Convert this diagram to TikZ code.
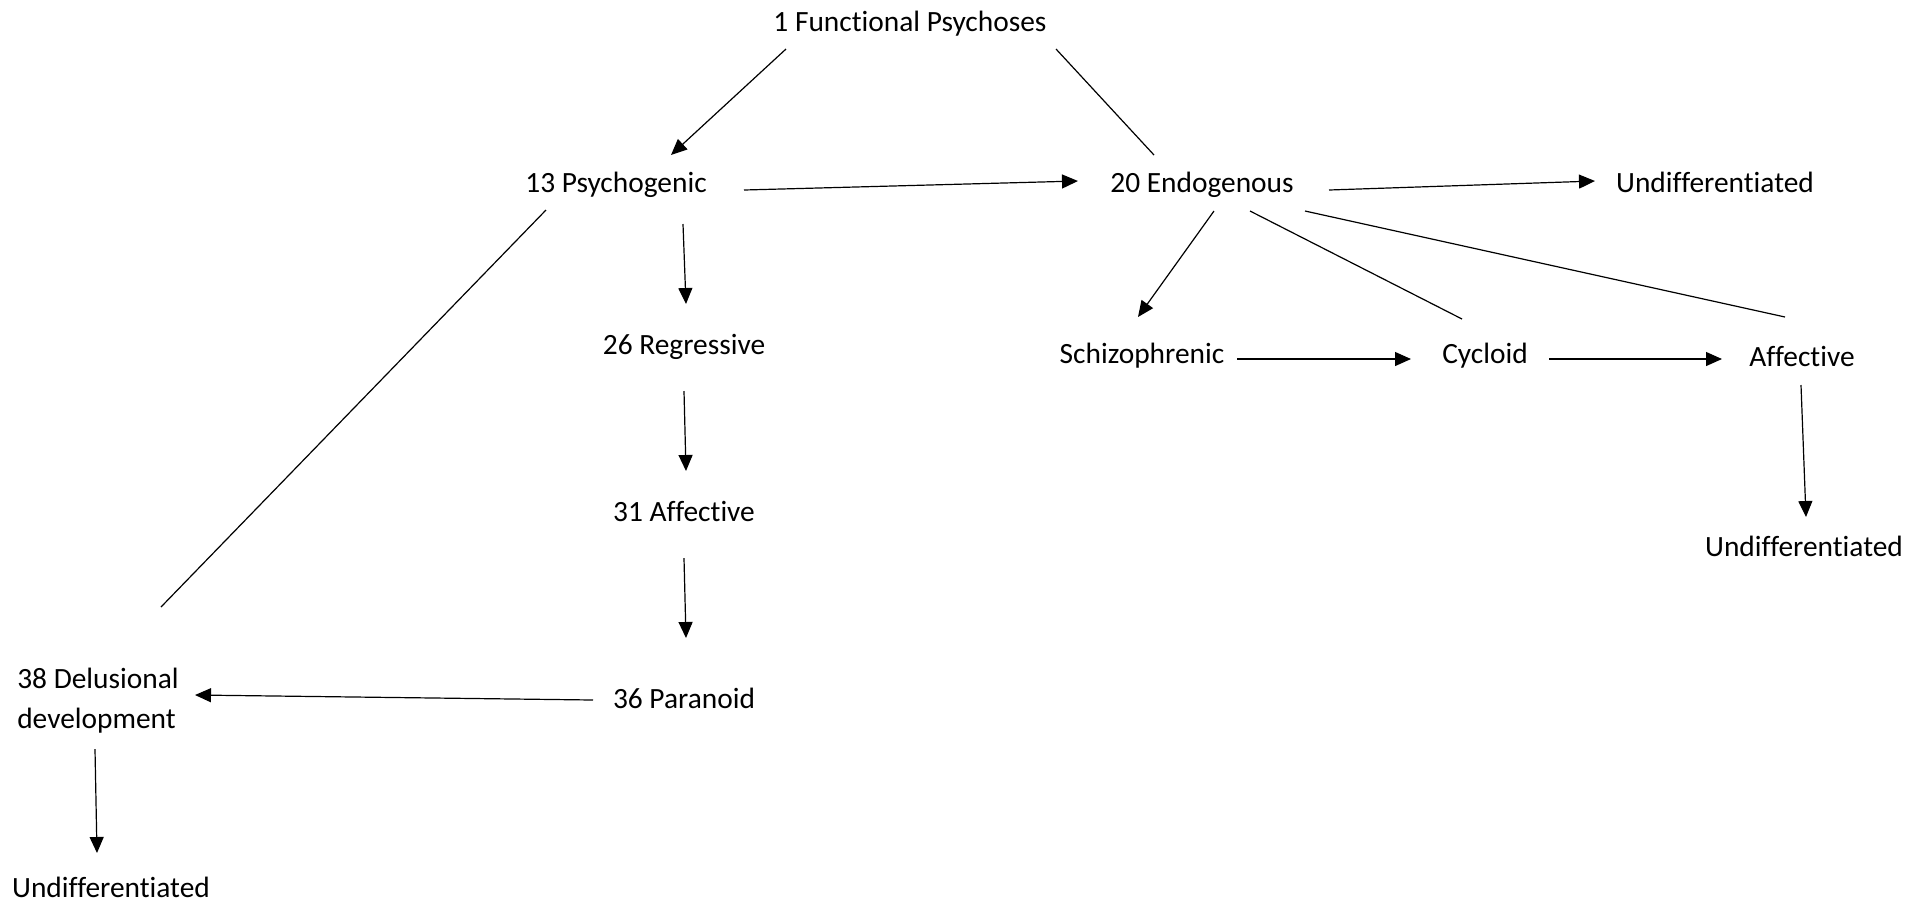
\documentclass[tikz,border=0pt]{standalone}
\usepackage{fontspec}
\setmainfont{Carlito}[Ligatures=NoCommon]
\usetikzlibrary{arrows.meta,calc}

\begin{document}
\begin{tikzpicture}[x=0.5pt,y=-0.5pt,
  etiq/.style={font=\fontsize{14.7}{20}\selectfont,inner sep=0pt,text height=0.85em,text depth=0.1em},
  etiqdos/.style={font=\fontsize{14.7}{20}\selectfont,inner sep=0pt,align=left},
  flecha/.style={-{Triangle[length=8pt,width=7pt]},line width=0.6pt},
  linea/.style={line width=0.6pt}
  ]

  \useasboundingbox (0,0) rectangle (1929,902);

  \node[etiq] (fp) at (910,24) {1 Functional Psychoses};
  \node[etiq] (psy) at (616,185) {13 Psychogenic};
  \node[etiq] (endo) at (1202,185) {20 Endogenous};
  \node[etiq] (indA) at (1715,185) {Undifferentiated};
  \node[etiq] (reg) at (684,347) {26 Regressive};
  \node[etiq] (afe) at (684,514) {31 Affective};
  \node[etiq] (par) at (684,701) {36 Paranoid};
  \node[etiqdos] (del) at (98,701) {38 Delusional\\development};
  \node[etiq] (indB) at (111,890) {Undifferentiated};
  \node[etiq] (esq) at (1142,356) {Schizophrenic};
  \node[etiq] (cic) at (1485,356) {Cycloid};
  \node[etiq] (afd) at (1802,359) {Affective};
  \node[etiq] (indC) at (1804,549) {Undifferentiated};

  \draw[flecha] ($(fp)+(-124,25)$) -- ($(psy)+(55,-30)$);
  \draw[linea] ($(fp)+(146,25)$) -- ($(endo)+(-48,-30)$);
  \draw[flecha] ($(psy)+(128,5)$) -- ($(endo)+(-124,-4)$);
  \draw[flecha] ($(endo)+(127,5)$) -- ($(indA)+(-120,-4)$);

  % rama psicogena
  \draw[flecha] ($(psy)+(67,39)$) -- ($(reg)+(2,-43)$);
  \draw[flecha] ($(reg)+(0,44)$) -- ($(afe)+(2,-43)$);
  \draw[flecha] ($(afe)+(0,44)$) -- ($(par)+(2,-63)$);
  \draw[flecha] ($(par)+(-91,-1)$) -- ($(del)+(97,-6)$);
  \draw[linea] ($(psy)+(-70,25)$) -- ($(del)+(63,-94)$);
  \draw[flecha] ($(del)+(-3,48)$) -- ($(indB)+(-14,-37)$);

  % rama endogena
  \draw[flecha] ($(endo)+(12,26)$) -- ($(esq)+(-4,-39)$);
  \draw[linea] ($(endo)+(48,26)$) -- ($(cic)+(-23,-37)$);
  \draw[linea] ($(endo)+(103,26)$) -- ($(afd)+(-17,-42)$);
  \draw[flecha] ($(esq)+(95,3)$) -- ($(cic)+(-74,3)$);
  \draw[flecha] ($(cic)+(64,3)$) -- ($(afd)+(-80,0)$);
  \draw[flecha] ($(afd)+(-1,26)$) -- ($(indC)+(2,-32)$);

\end{tikzpicture}
\end{document}
